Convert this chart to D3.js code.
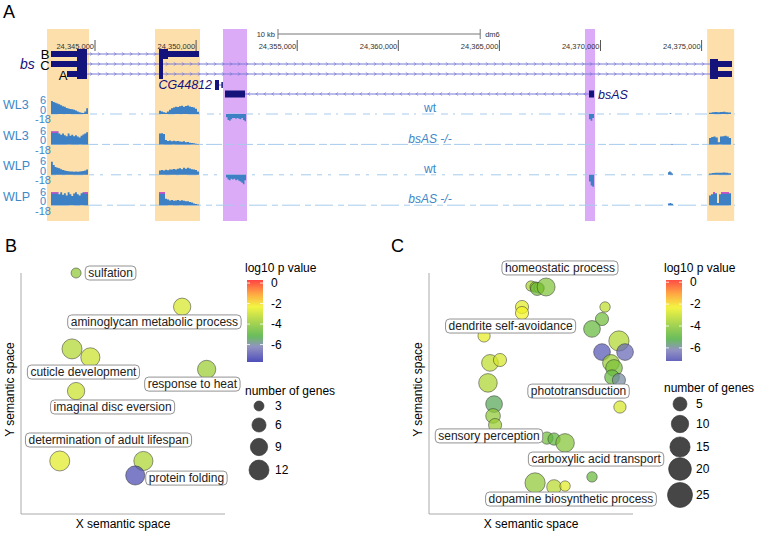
<!DOCTYPE html>
<html>
<head>
<meta charset="utf-8">
<script src="https://cdn.jsdelivr.net/npm/d3@7"></script>
<style>
body { margin: 0; background: #fff; }
svg { display: block; font-family: "Liberation Sans", Arial, sans-serif; }
</style>
</head>
<body>
<svg class="chart"></svg>
<script>
const width = 758,
  height = 533;

// ---------- panel A data ----------
const genomicTicks = [24345000, 24350000, 24355000, 24360000, 24365000, 24370000, 24375000];
const rulerStart = 24354050, rulerLength = 10000;
const orangeRegions = [[24342626, 24344703], [24347967, 24350193], [24375275, 24376610]];
const purpleRegions = [[24351330, 24352517], [24369233, 24369728]];

// exons: [start, end, kind]
const bsB = [[24342824, 24344110, "utr"], [24344110, 24344604, "cds"], [24348165, 24348610, "cds"], [24348610, 24350143, "utr"]];
const bsC = [[24342824, 24344110, "utr"], [24344110, 24344604, "cds"], [24348165, 24348363, "cds"], [24375415, 24375811, "cds"], [24375811, 24376503, "utr"]];
const bsA = [[24343615, 24344110, "utr"], [24344110, 24344604, "cds"], [24348165, 24348363, "cds"], [24375415, 24375811, "cds"], [24375811, 24376503, "utr"]];
const cg44812 = [[24350935, 24351133, "cds"], [24351250, 24351290, "utr"]];
const bsAS = [[24351429, 24352418, "nc"], [24369431, 24369678, "nc"]];

const trackNames = ["WL3", "WL3", "WLP", "WLP"];
const trackGenotypes = ["wt", "bsAS -/-", "wt", "bsAS -/-"];
const trackScale = [6, 0, -18];
const covSegments = [[24342824, 24344654], [24348165, 24350143], [24351479, 24352468], [24369431, 24369678], [24373338, 24373585], [24375366, 24376454]];
const wl3wt = [
  [6, 5.5, 5.2, 4.8, 4.5, 4, 3.6, 3.3, 2.8, 2.5, 2.3, 2.2, 2, 1.6, 1.2, 0.8, 0.6, 0.5, 1.2, 2.6],
  [1.5, 1.2, 0.8, 0.6, 1.2, 2, 2.6, 3, 3.4, 3.2, 3.6, 3.8, 3.4, 3.7, 3.9, 3.5, 3.2, 3, 2.4, 1],
  [-5, -9, -10, -8, -6, -6, -7, -6, -7, -8, -6, -9, -11],
  [-8, -10, -6],
  [0, 0.3, 0],
  [0.6, 0.8, 0.9, 0.8, 0.9, 1, 0.8, 0.7]
];
const wl3ko = [
  [7, 7, 7, 7, 5, 4.5, 5, 4.2, 3.8, 5, 4, 4.5, 3.8, 4.2, 3.6, 3.2, 4, 4.6, 5, 5.6],
  [5, 5.2, 4.8, 2, 1.6, 1.8, 1.5, 1.7, 1.4, 1.6, 1.3, 1.2, 1.4, 1, 1.1, 0.8, 0.7, 0.5, 0.3, 0.2],
  [],
  [],
  [0.2],
  [3, 3.4, 3.6, 3.2, 1, 3.6, 3.8, 4, 3.6, 3]
];
const wlpwt = [
  [6, 4.5, 3.6, 3.2, 3, 2.6, 2.2, 2, 1.8, 1.6, 1.5, 1.5, 1.4, 1.5, 1.4, 1.5, 1.6, 1.8, 2, 2.4],
  [2, 2.2, 2, 2.3, 2.1, 2.5, 2.4, 2.7, 2.5, 2.8, 3, 2.6, 3.2, 2.8, 3.3, 2.9, 2.6, 2.4, 2.2, 1.5],
  [-4, -7, -8, -6, -7, -6, -8, -7, -9, -10, -12, -14, -8],
  [-10, -16, -18],
  [1.2, 1.6, 1.2, 0.6],
  [0.6, 0.8, 1, 0.9, 1, 1.1, 0.9, 0.7]
];
const wlpko = [
  [7, 7, 7, 7, 5, 6, 4.8, 5.5, 4.5, 6, 5, 4.2, 5.4, 6, 5, 4.5, 5.5, 6, 7, 7],
  [7, 7, 7, 3, 2.6, 2.2, 2.4, 2, 2.2, 2.4, 2.1, 2.3, 2, 1.8, 1.8, 1.5, 1.2, 0.8, 0.5, 0.3],
  [],
  [],
  [0.8, 1, 0.7],
  [4.5, 5, 7, 5.5, 1, 5, 7, 7, 7, 6.5, 5.5]
];
const trackData = [wl3wt, wl3ko, wlpwt, wlpko];

// ---------- panel B / C data ----------
const pStops = [-7.6, -6.2, -5.2, -3.8, -2.3, -1, 0.3];
const pColours = ["#3535b0", "#8080b8", "#4eb040", "#9acd32", "#f2f222", "#ff9422", "#ff2424"];
const pTicks = [0, -2, -4, -6];

const bX = [27, 79, 25, 34, 91, 27, 19, 60, 56];
const bY = [100, 86, 68.5, 65, 60, 51, 22, 22, 16];
const bGenes = [3, 9, 12, 11, 10, 9, 12, 11, 11];
const bLogP = [-4.0, -2.8, -3.4, -3.0, -3.8, -3.0, -2.6, -3.5, -7.2];
const bLabels = ["sulfation", "aminoglycan metabolic process", "cuticle development", "response to heat", "imaginal disc eversion", "determination of adult lifespan", "protein folding"];
const bLabelX = [43.9, 65.4, 30.6, 84, 44.9, 42.9, 81.1];
const bLabelY = [100, 79.7, 58.9, 53.9, 44.4, 30.7, 14.9];
const bSizeBreaks = [3, 6, 9, 12];

const cX = [50, 52, 54, 53, 57.4, 45.6, 45.6, 27, 29.9, 34.8, 28.9, 31.9, 31.4, 32.4, 57.8, 61.3, 66.7, 79.9, 52, 61.3, 66.7, 86.3, 84.8, 79.9, 93.1, 84.8, 96.1, 89.2, 90.7, 89.7, 93.1, 93.6];
const cY = [94.6, 94.2, 93.8, 93.4, 94.2, 85.9, 83.4, 73.9, 62.7, 63.9, 54.4, 45.6, 40.7, 36.9, 31.5, 31.1, 29.5, 15.4, 12.9, 11.2, 11.6, 85.9, 80.9, 76.8, 71.8, 67.2, 67.2, 62.7, 60.6, 56.8, 55.6, 44.4];
const cGenes = [1, 1, 1, 4, 11, 4, 4, 3, 9, 4, 12, 9, 6, 4, 3, 3, 12, 1, 15, 6, 1, 1, 4, 9, 15, 9, 9, 9, 9, 6, 4, 3];
const cLogP = [-3.6, -4.0, -3.8, -4.6, -4.3, -2.6, -2.3, -2.5, -3.2, -2.8, -3.5, -5.4, -4.0, -3.8, -4.6, -4.9, -4.2, -4.7, -4.0, -3.3, -2.6, -3.2, -4.6, -4.8, -3.4, -7.0, -6.7, -3.8, -4.4, -4.8, -6.0, -2.8];
const cLabels = ["homeostatic process", "dendrite self-avoidance", "phototransduction", "sensory perception", "carboxylic acid transport", "dopamine biosynthetic process"];
const cLabelX = [64.2, 40, 73.3, 29.4, 81.9, 69.6];
const cLabelY = [102.1, 78, 51, 32.4, 22.8, 6.2];
const cSizeBreaks = [5, 10, 15, 20, 25];

let chart = d3.select(".chart")
  .attr("width", width)
  .attr("height", height);

const navy = "#13137b", intronCol = "#7b7bd8", trackCol = "#3d80c4", trackText = "#3d87c9";

// panel letters
[["A", 3, 18], ["B", 5, 252], ["C", 391, 252]].forEach(([t, x, y]) => {
  chart.append("text").attr("x", x).attr("y", y).attr("font-size", 18).text(t);
});

// ---------- panel A ----------
let gx = d3.scaleLinear()
  .domain([24342626, 24376652])
  .range([47, 735]);

chart.append("g").selectAll("rect")
  .data(orangeRegions.map(r => [r, "#fddfab"]).concat(purpleRegions.map(r => [r, "#dcabf8"])))
  .join("rect")
  .attr("x", d => gx(d[0][0]))
  .attr("width", d => gx(d[0][1]) - gx(d[0][0]))
  .attr("y", 29)
  .attr("height", 192)
  .attr("fill", d => d[1]);

// ruler + coordinate ticks
let ruler = chart.append("g").attr("stroke", "#777");
ruler.append("line").attr("x1", gx(rulerStart)).attr("x2", gx(rulerStart + rulerLength)).attr("y1", 34).attr("y2", 34);
[rulerStart, rulerStart + rulerLength].forEach(p => {
  ruler.append("line").attr("x1", gx(p)).attr("x2", gx(p)).attr("y1", 29).attr("y2", 39);
});
chart.append("text").attr("x", gx(rulerStart) - 3).attr("y", 37).attr("text-anchor", "end")
  .attr("font-size", 7.5).attr("fill", "#333").text("10 kb");
chart.append("text").attr("x", gx(rulerStart + rulerLength) + 5).attr("y", 37)
  .attr("font-size", 7.5).attr("fill", "#333").text("dm6");

let gt = chart.append("g").selectAll("g").data(genomicTicks).join("g");
gt.append("line").attr("x1", d => gx(d)).attr("x2", d => gx(d)).attr("y1", 40).attr("y2", 51).attr("stroke", "#555");
gt.append("text").attr("x", d => gx(d) - 1).attr("y", 49).attr("text-anchor", "end")
  .attr("font-size", 7.5).attr("fill", "#333").text(d => d3.format(",")(d));

function drawTranscript(exons, y, strand, hCds) {
  let g = chart.append("g");
  let s = exons[0][0], e = exons[exons.length - 1][1];
  g.append("line").attr("x1", gx(s)).attr("x2", gx(e)).attr("y1", y).attr("y2", y)
    .attr("stroke", intronCol).attr("stroke-width", 1);
  if (strand) {
    for (let i = 0; i < exons.length - 1; i++) {
      let x0 = gx(exons[i][1]) + 4, x1 = gx(exons[i + 1][0]) - 3;
      for (let x = x0; x < x1; x += 8) {
        let d = strand == "+" ? `M${x - 1.2},${y - 1.6}L${x + 1.2},${y}L${x - 1.2},${y + 1.6}`
          : `M${x + 1.2},${y - 1.6}L${x - 1.2},${y}L${x + 1.2},${y + 1.6}`;
        g.append("path").attr("d", d).attr("fill", "none").attr("stroke", intronCol).attr("stroke-width", 0.7);
      }
    }
  }
  g.selectAll("rect").data(exons).join("rect")
    .attr("x", d => gx(d[0]))
    .attr("width", d => Math.max(1.5, gx(d[1]) - gx(d[0])))
    .attr("y", d => y - (d[2] == "utr" ? 3 : hCds / 2))
    .attr("height", d => d[2] == "utr" ? 6 : hCds)
    .attr("fill", navy);
}
drawTranscript(bsB, 54, "+", 10);
drawTranscript(bsC, 64, "+", 10);
drawTranscript(bsA, 74, "+", 10);
drawTranscript(cg44812, 85, null, 10);
drawTranscript(bsAS, 94, "-", 7);

chart.append("text").attr("x", 20).attr("y", 69).attr("font-size", 14).attr("font-style", "italic")
  .attr("fill", navy).text("bs");
[["B", 45, 59], ["C", 45, 70], ["A", 63, 80]].forEach(([t, x, y]) => {
  chart.append("text").attr("x", x).attr("y", y).attr("text-anchor", "middle").attr("font-size", 13).text(t);
});
chart.append("text").attr("x", gx(cg44812[0][0]) - 3).attr("y", 89).attr("text-anchor", "end")
  .attr("font-size", 12.5).attr("font-style", "italic").attr("fill", navy).text("CG44812");
chart.append("text").attr("x", gx(bsAS[1][1]) + 4).attr("y", 98.5)
  .attr("font-size", 12.5).attr("font-style", "italic").attr("fill", navy).text("bsAS");

// coverage tracks
const dashes = ["7,5,2,6,12,7", "16,4,8,3", "5,6,3,8,10,6", "18,5,6,4"];
trackData.forEach((segs, i) => {
  let b = 114 + i * 30.4;
  let ty = d3.scaleLinear().domain([-18, 0, 6]).range([b + 12, b, b - 13]);
  let g = chart.append("g");
  g.append("line").attr("x1", gx(covSegments[0][0])).attr("x2", gx.range()[1])
    .attr("y1", ty(0)).attr("y2", ty(0))
    .attr("stroke", "#a6cbec").attr("stroke-width", 1).attr("stroke-dasharray", dashes[i]);
  segs.forEach((vals, j) => {
    if (!vals.length) return;
    let [s, e] = covSegments[j];
    let step = (e - s) / vals.length;
    let pts = vals.map((v, k) => [s + k * step, v]);
    pts.push([e, vals[vals.length - 1]]);
    let area = d3.area()
      .curve(d3.curveStepAfter)
      .x(p => gx(p[0]))
      .y0(ty(0))
      .y1(p => ty(Math.max(-18, Math.min(6, p[1]))));
    g.append("path").attr("d", area(pts)).attr("fill", trackCol);
    vals.forEach((v, k) => {
      if (v > 6) {
        g.append("rect").attr("x", gx(s + k * step)).attr("width", gx(s + step) - gx(s))
          .attr("y", ty(6)).attr("height", 1.5).attr("fill", "#e046c8");
      }
    });
  });
  g.append("text").attr("x", 3).attr("y", b - 9).attr("dy", "0.35em")
    .attr("font-size", 12.5).attr("fill", trackText).text(trackNames[i]);
  [b - 13.5, b - 4, b + 5.5].forEach((y, k) => {
    g.append("text").attr("x", 43).attr("y", y).attr("dy", "0.35em").attr("text-anchor", "middle")
      .attr("font-size", 11).attr("fill", trackText).text(trackScale[k]);
  });
  g.append("text").attr("x", 430).attr("y", b - 6).attr("dy", "0.35em").attr("text-anchor", "middle")
    .attr("font-size", 12).attr("fill", trackText)
    .attr("font-style", i % 2 ? "italic" : "normal").text(trackGenotypes[i]);
});

// ---------- panels B and C ----------
let pColour = d3.scaleLinear().domain(pStops).range(pColours);

function bubblePanel(cfg) {
  let g = chart.append("g");
  let x = d3.scaleLinear().domain([0, 100]).range([cfg.left, cfg.left + 204]);
  let y = d3.scaleLinear().domain([0, 100]).range([514, 273]);
  let r = d3.scaleRadial().domain(cfg.sizeDomain).range(cfg.sizeRange);

  g.append("path").attr("d", `M${x(0)},${y(100)}V${y(0)}H${x(100)}`)
    .attr("fill", "none").attr("stroke", "#aaa");
  g.append("text").attr("x", x(50)).attr("y", 528).attr("text-anchor", "middle")
    .attr("font-size", 12).text("X semantic space");
  g.append("text").attr("transform", `translate(${x(0) - 7},${y(50) - 4}) rotate(-90)`)
    .attr("text-anchor", "middle").attr("font-size", 12).text("Y semantic space");

  g.selectAll("circle.bub").data(cfg.xs.map((d, i) => i)).join("circle")
    .attr("class", "bub")
    .attr("cx", i => x(cfg.xs[i]))
    .attr("cy", i => y(cfg.ys[i]))
    .attr("r", i => r(cfg.genes[i]))
    .attr("fill", i => pColour(cfg.logp[i]))
    .attr("fill-opacity", 0.72)
    .attr("stroke", "#333")
    .attr("stroke-opacity", 0.75)
    .attr("stroke-width", 0.7);

  cfg.labels.forEach((t, i) => {
    let lg = g.append("g");
    let rect = lg.append("rect");
    let txt = lg.append("text").attr("x", x(cfg.lx[i])).attr("y", y(cfg.ly[i])).attr("dy", "0.35em")
      .attr("text-anchor", "middle").attr("font-size", 12).attr("fill", "#222").text(t);
    let w = txt.node().getComputedTextLength();
    rect.attr("x", x(cfg.lx[i]) - w / 2 - 3).attr("width", w + 6)
      .attr("y", y(cfg.ly[i]) - 7).attr("height", 14).attr("rx", 4)
      .attr("fill", "#fff").attr("stroke", "#777").attr("stroke-width", 0.8);
  });

  // colour legend
  let cb = d3.scaleLinear().domain(cfg.cbDomain).range([280, cfg.cbBottom]);
  let gid = `grad${cfg.id}`;
  let grad = chart.append("defs").append("linearGradient").attr("id", gid)
    .attr("x1", 0).attr("y1", 0).attr("x2", 0).attr("y2", 1);
  d3.range(0, 41).forEach(k => {
    let v = cfg.cbDomain[0] + k / 40 * (cfg.cbDomain[1] - cfg.cbDomain[0]);
    grad.append("stop").attr("offset", k / 40).attr("stop-color", pColour(v));
  });
  g.append("text").attr("x", cfg.legX).attr("y", 272).attr("font-size", 12).text("log10 p value");
  g.append("rect").attr("x", cfg.legX + 2).attr("y", 280).attr("width", 16)
    .attr("height", cfg.cbBottom - 280).attr("fill", `url(#${gid})`).attr("fill-opacity", 0.85);
  pTicks.forEach(v => {
    g.append("text").attr("x", cfg.legX + 26).attr("y", cb(v)).attr("dy", "0.35em")
      .attr("font-size", 12).text(v);
    [cfg.legX + 2, cfg.legX + 15].forEach(xx => {
      g.append("line").attr("x1", xx).attr("x2", xx + 3).attr("y1", cb(v)).attr("y2", cb(v))
        .attr("stroke", "#fff").attr("stroke-opacity", 0.8);
    });
  });

  // size legend
  g.append("text").attr("x", cfg.legX).attr("y", cfg.sizeTitleY).attr("dy", "0.35em")
    .attr("font-size", 12).text("number of genes");
  cfg.sizeBreaks.forEach((n, k) => {
    g.append("circle").attr("cx", cfg.legX + cfg.sizeDx).attr("cy", cfg.sizeY[k]).attr("r", r(n))
      .attr("fill", "#464646").attr("stroke", "#333").attr("stroke-width", 0.6);
    g.append("text").attr("x", cfg.legX + cfg.sizeDx + 16).attr("y", cfg.sizeY[k]).attr("dy", "0.35em")
      .attr("font-size", 12).text(n);
  });
}

bubblePanel({
  id: "B", left: 21,
  xs: bX, ys: bY, genes: bGenes, logp: bLogP,
  labels: bLabels, lx: bLabelX, ly: bLabelY,
  sizeDomain: [3, 12], sizeRange: [5, 10], sizeBreaks: bSizeBreaks,
  legX: 245, cbDomain: [0.3, -7.7], cbBottom: 362,
  sizeTitleY: 391, sizeDx: 14, sizeY: [406, 425, 447, 470]
});
bubblePanel({
  id: "C", left: 429,
  xs: cX, ys: cY, genes: cGenes, logp: cLogP,
  labels: cLabels, lx: cLabelX, ly: cLabelY,
  sizeDomain: [1, 25], sizeRange: [5.2, 12.5], sizeBreaks: cSizeBreaks,
  legX: 664, cbDomain: [0.2, -7.2], cbBottom: 361,
  sizeTitleY: 388, sizeDx: 16, sizeY: [404, 424, 447, 469, 495]
});
</script>
</body>
</html>
